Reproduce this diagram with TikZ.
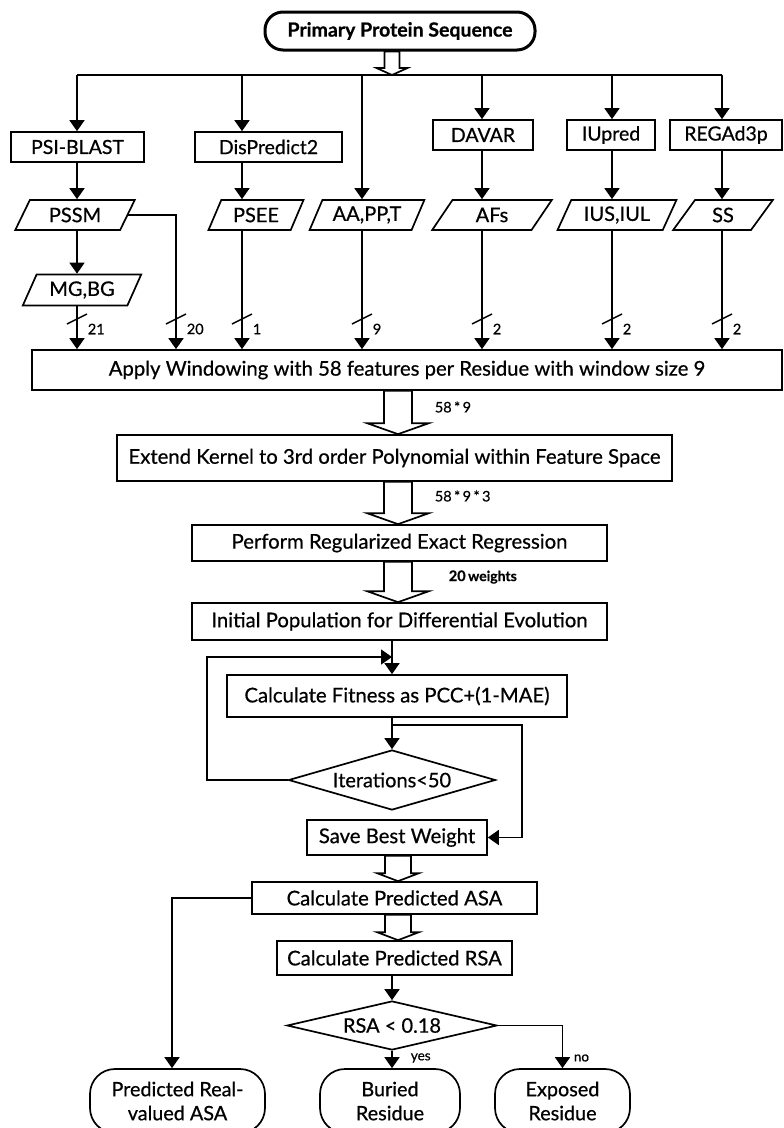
\documentclass[tikz,border=0pt]{standalone}
\usepackage{fontspec}
\setmainfont{Lato}[FakeBold=0.6]
\usetikzlibrary{arrows.meta,shapes.geometric,calc}

% hollow block arrow: from, to, x, shaft half width, head half width, head length
\newcommand{\blockarr}[6]{%
  \draw[fill=white] let \p1=(#1), \p2=(#2) in
    (#3pt-#4pt,\y1) -- (#3pt-#4pt,\y2+#6pt) -- (#3pt-#5pt,\y2+#6pt) -- (#3pt,\y2)
    -- (#3pt+#5pt,\y2+#6pt) -- (#3pt+#4pt,\y2+#6pt) -- (#3pt+#4pt,\y1) -- cycle;}

\begin{document}
\begin{tikzpicture}[x=1pt,y=-1pt,line width=1.7pt,
  font=\fontsize{20.3}{24}\selectfont,
  arr/.style={-{Triangle[width=15pt,length=11pt]}},
  procbox/.style={draw, rectangle, inner sep=0pt},
  toolbox/.style={procbox, minimum height=30pt, font=\fontsize{19.5}{24}\selectfont},
  databox/.style={draw, trapezium, trapezium left angle=60, trapezium right angle=120,
    trapezium stretches=true, minimum height=30pt, inner sep=0pt,
    font=\fontsize{20}{24}\selectfont},
  termbox/.style={draw, rectangle, rounded corners=25pt, minimum height=64pt,
    inner sep=0pt, align=center, font=\fontsize{19.8}{24}\selectfont},
  decbox/.style={draw, diamond, inner sep=0pt, font=\fontsize{20}{24}\selectfont},
  lbl/.style={font=\fontsize{14.5}{17}\selectfont, inner sep=0pt, anchor=west}]

\clip (0,0) rectangle (784,1128);
\fill[white] (0,0) rectangle (784,1128);

% ===== Input sequence and tools =====
\node[draw, rectangle, rounded corners=18pt, line width=3pt, minimum width=270pt,
  minimum height=38pt, font=\bfseries\fontsize{19.5}{24}\selectfont] (prim) at (400,31)
  {Primary Protein Sequence};

\coordinate (b1) at (77,75);
\coordinate (b2) at (242,75);
\coordinate (b3) at (362,75);
\coordinate (b4) at (482,75);
\coordinate (b5) at (612,75);
\coordinate (b6) at (722,75);
\draw (b1) -- (b6);
\blockarr{prim.south}{b1}{392}{7.5}{15.5}{7}

\node[toolbox, minimum width=133pt] (psiblast) at (77.5,147) {PSI-BLAST};
\node[toolbox, minimum width=147pt] (dispred) at (268.5,147) {DisPredict2};
\node[toolbox, minimum width=100pt] (davar) at (483,135) {DAVAR};
\node[toolbox, minimum width=88pt] (iupred) at (611,135) {IUpred};
\node[toolbox, minimum width=112pt] (regad) at (726,135) {REGAd3p};

% ----- feature groups -----
\node[databox, minimum width=120pt] (pssm) at (75,215) {PSSM};
\node[databox, minimum width=95pt] (psee) at (256,215) {PSEE};
\node[databox, minimum width=115pt] (aapp) at (367,215) {AA,PP,T};
\node[databox, minimum width=120pt] (afs) at (492,215) {AFs};
\node[databox, minimum width=119pt] (iusiul) at (617,215) {IUS,IUL};
\node[databox, minimum width=100pt] (ss) at (723,215) {SS};
\node[databox, minimum width=119pt, minimum height=31pt] (mgbg) at (82,290) {MG,BG};

\draw[arr] (b1) -- (b1 |- psiblast.north);
\draw[arr] (b2) -- (b2 |- dispred.north);
\draw[arr] (b3) -- (b3 |- aapp.north);
\draw[arr] (b4) -- (b4 |- davar.north);
\draw[arr] (b5) -- (b5 |- iupred.north);
\draw[arr] (b6) -- (b6 |- regad.north);

\draw[arr] (b1 |- psiblast.south) -- (b1 |- pssm.north);
\draw[arr] (b2 |- dispred.south) -- (b2 |- psee.north);
\draw[arr] (b4 |- davar.south) -- (b4 |- afs.north);
\draw[arr] (b5 |- iupred.south) -- (b5 |- iusiul.north);
\draw[arr] (b6 |- regad.south) -- (b6 |- ss.north);
\draw[arr] (b1 |- pssm.south) -- (b1 |- mgbg.north);

% ===== Windowing =====
\node[procbox, minimum width=750pt, minimum height=40pt] (apply) at (407,370)
  {Apply Windowing with 58 features per Residue with window size 9};

\coordinate (k20) at (176,220);
\draw[arr] (b1 |- mgbg.south) -- (b1 |- apply.north);
\draw[arr] (pssm.east) -| (k20 |- apply.north);
\draw[arr] (b2 |- psee.south) -- (b2 |- apply.north);
\draw[arr] (b3 |- aapp.south) -- (b3 |- apply.north);
\draw[arr] (b4 |- afs.south) -- (b4 |- apply.north);
\draw[arr] (b5 |- iusiul.south) -- (b5 |- apply.north);
\draw[arr] (b6 |- ss.south) -- (b6 |- apply.north);

% feature counts on each input
\foreach \x/\n [count=\i] in {77/21,176/20,242/1,362/9,482/2,612/2,722/2} {
  \draw[line width=1.4pt] (\x-10,324) -- (\x+10,314);
  \node[lbl] (cnt\i) at (\x+10,329) {\n};
}

% ===== Kernel, regression, DE =====
\node[procbox, minimum width=555pt, minimum height=46pt] (extend) at (394.5,458)
  {Extend Kernel to 3rd order Polynomial within Feature Space};
\node[procbox, minimum width=415pt, minimum height=36pt] (perform) at (399.5,543)
  {Perform Regularized Exact Regression};
\node[procbox, minimum width=415pt, minimum height=37pt] (initial) at (399.5,621.5)
  {Initial Population for Differential Evolution};

\blockarr{apply.south}{extend.north}{398}{14}{31}{11}
\blockarr{extend.south}{perform.north}{398}{14}{31}{11}
\blockarr{perform.south}{initial.north}{398}{14}{31}{11}
\node[lbl] (dim1) at (434,407) {58\,*\,9};
\node[lbl] (dim2) at (434,496) {58\,*\,9\,*\,3};
\node[lbl] (dim3) at (448,577) {\bfseries 20\,{\fontsize{14}{16}\selectfont weights}};

% ----- fitness loop -----
\coordinate (spine) at (392,0);
\node[procbox, minimum width=340pt, minimum height=42pt] (fitness) at (397,696)
  {Calculate Fitness as PCC+(1-MAE)};
\node[decbox, aspect=3.45, minimum width=207pt, minimum height=60pt] (iter) at (392,780)
  {Iterations<50};
\node[procbox, minimum width=180pt, minimum height=35pt] (save) at (397,837.5)
  {Save Best Weight};

\coordinate (loopL) at (207,657);
\coordinate (loopR) at (392,657);
\draw (initial.south -| spine) -- (loopR);
\draw[arr] (loopR) -- (fitness.north -| spine);
\draw[arr] (iter.west) -| (loopL) -- (loopR);
\draw[arr] (fitness.south -| spine) -- (iter.north);
\coordinate (brL) at (392,725);
\coordinate (brR) at (522,725);
\draw[arr] (brL) -- (brR) |- (save.east);

% ===== Prediction outputs =====
\node[procbox, minimum width=285pt, minimum height=32pt] (asa) at (394.5,898)
  {Calculate Predicted ASA};
\node[procbox, minimum width=235pt, minimum height=34pt] (rsa) at (394.5,958)
  {Calculate Predicted RSA};
\node[decbox, aspect=4.3, minimum width=210pt, minimum height=49pt] (rsadec) at (392,1025.5)
  {RSA < 0.18};
\blockarr{save.south}{asa.north}{398}{13}{21}{8}
\blockarr{asa.south}{rsa.north}{398}{13}{21}{8}

\node[termbox, minimum width=175pt] (predasa) at (177.5,1101)
  {Predicted Real-\\valued ASA};
\node[termbox, minimum width=140pt] (buried) at (390,1101)
  {Buried\\Residue};
\node[termbox, minimum width=135pt] (exposed) at (562.5,1101)
  {Exposed\\Residue};

\coordinate (pl) at (172,898);
\draw[arr] (asa.west) -| (pl |- predasa.north);
\draw[arr] (rsa.south -| spine) -- (rsadec.north);
\draw[arr] (rsadec.south) -- (rsadec.south |- buried.north);
\draw[arr] (rsadec.east) -| (exposed.north);
\node[lbl, font=\fontsize{13.5}{15}\selectfont] (yes) at (410,1058) {yes};
\node[lbl, font=\fontsize{13.5}{15}\selectfont] (no) at (573,1058) {no};

\end{tikzpicture}
\end{document}
